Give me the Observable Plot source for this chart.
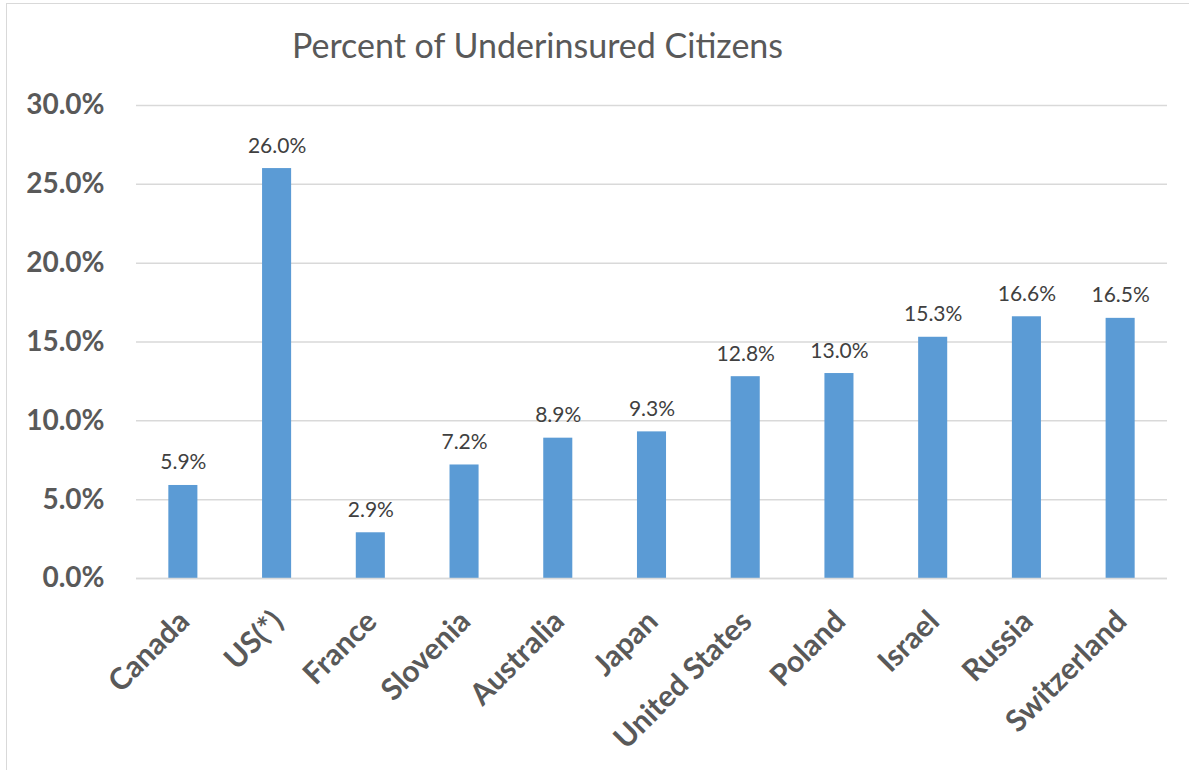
<!DOCTYPE html>
<html>
<head>
<meta charset="utf-8">
<script src="https://cdn.jsdelivr.net/npm/d3@7"></script>
<script src="https://cdn.jsdelivr.net/npm/@observablehq/plot@0.6"></script>
<style>
  html, body { margin: 0; padding: 0; background: #fff; }
  #wrap { position: relative; width: 1189px; height: 770px; overflow: hidden; font-family: Lato, "Open Sans", sans-serif; }
  #frame { position: absolute; left: 6px; top: 3px; width: 1300px; height: 900px; border: 1.5px solid #d9d9d9; box-sizing: border-box; }
  #title { position: absolute; left: 0; top: 25px; width: 1075px; text-align: center; font-size: 34px; color: #595959; font-weight: 400; margin: 0; line-height: 40px; white-space: nowrap; }
  #chart { position: absolute; left: 0; top: 80px; }
</style>
</head>
<body>
<div id="wrap">
  <div id="frame"></div>
  <div id="title">Percent of Underinsured Citizens</div>
  <div id="chart"></div>
</div>
<script>
const countries = ["Canada", "US(*)", "France", "Slovenia", "Australia", "Japan", "United States", "Poland", "Israel", "Russia", "Switzerland"];
const percents = [5.9, 26.0, 2.9, 7.2, 8.9, 9.3, 12.8, 13.0, 15.3, 16.6, 16.5];
const yTicks = [0, 5, 10, 15, 20, 25, 30];

const data = countries.map((c, i) => ({country: c, value: percents[i]}));
const fmt = d => d.toFixed(1) + "%";

const chart = Plot.plot({
  width: 1189,
  height: 690,
  marginTop: 25,
  marginBottom: 192,
  marginLeft: 136,
  marginRight: 22,
  style: {fontFamily: "Lato, 'Open Sans', sans-serif", background: "transparent"},
  x: {domain: countries, paddingInner: 0.69, paddingOuter: 0.345, round: false, label: null},
  y: {domain: [0, 30], label: null},
  marks: [
    Plot.gridY(yTicks, {stroke: "#d9d9d9", strokeOpacity: 1, strokeWidth: 1.5}),
    Plot.barY(data, {x: "country", y: "value", fill: "#5B9BD5"}),
    Plot.ruleY([0], {stroke: "#d9d9d9", strokeWidth: 1.5}),
    Plot.text(data, {x: "country", y: "value", text: d => fmt(d.value), lineAnchor: "bottom", dy: -16, fontSize: 21, fill: "#404040"}),
    Plot.axisY(yTicks, {tickSize: 0, tickPadding: 32, tickFormat: fmt, fontSize: 28, fontWeight: "bold", fill: "#595959", label: null}),
    Plot.axisX({tickSize: 0, tickRotate: -45, tickPadding: 38, fontSize: 30, fontWeight: "bold", fill: "#595959", label: null, dx: 1})
  ]
});
document.getElementById("chart").appendChild(chart);
</script>
</body>
</html>
